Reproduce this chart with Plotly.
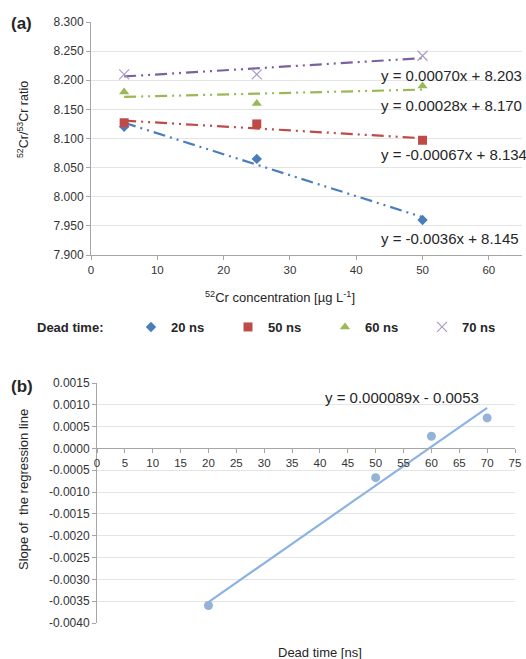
import plotly.graph_objects as go

# ---------------- data ----------------
conc = [5, 25, 50]
dead_labels = ["20 ns", "50 ns", "60 ns", "70 ns"]
ratio_20 = [8.120, 8.065, 7.960]
ratio_50 = [8.127, 8.125, 8.097]
ratio_60 = [8.180, 8.160, 8.190]
ratio_70 = [8.210, 8.210, 8.242]
fit_slopes = [-0.0036, -0.00067, 0.00028, 0.00070]
fit_intercepts = [8.145, 8.134, 8.170, 8.203]
fit_texts = ["y = -0.0036x + 8.145", "y = -0.00067x + 8.134",
             "y = 0.00028x + 8.170", "y = 0.00070x + 8.203"]

dead_time = [20, 50, 60, 70]
slope_vals = [-0.0036, -0.00067, 0.00028, 0.00070]
b_slope = 0.000089
b_intercept = -0.0053
b_text = "y = 0.000089x - 0.0053"

top_yticks = [7.900, 7.950, 8.000, 8.050, 8.100, 8.150, 8.200, 8.250, 8.300]
top_xticks = [0, 10, 20, 30, 40, 50, 60]
bot_yticks = [-0.0040, -0.0035, -0.0030, -0.0025, -0.0020, -0.0015, -0.0010,
              -0.0005, 0.0000, 0.0005, 0.0010, 0.0015]
bot_xticks = list(range(0, 80, 5))

# ---------------- style ----------------
W, H = 526, 659
FONT = "Liberation Sans, Arial, sans-serif"
colors = ["#4a7ebb", "#be4b48", "#98b954", "#7d60a0"]
marker_colors = ["#4a7ebb", "#be4b48", "#98b954", "#aa9cc4"]
symbols = ["diamond", "square", "triangle-up", "x-thin"]
msizes = [8, 9, 9, 10]
dash = "12px,5px,2px,5px,2px,5px"
grid = "#e4e4e4"
axc = "#a6a6a6"
TXT = "#262626"
ytickfont = dict(family=FONT, size=12, color="#333333")
xtickfont = dict(family=FONT, size=11.5, color="#333333")


def px_x(p):
    return p / W


def px_y(p):
    return 1 - p / H


fig = go.Figure()

series = [ratio_20, ratio_50, ratio_60, ratio_70]
for i, vals in enumerate(series):
    x0, x1 = conc[0], conc[-1]
    fig.add_trace(go.Scatter(
        x=[x0, x1],
        y=[fit_slopes[i] * x0 + fit_intercepts[i], fit_slopes[i] * x1 + fit_intercepts[i]],
        mode="lines", line=dict(color=colors[i], width=2.2, dash=dash),
        showlegend=False, hoverinfo="skip", xaxis="x", yaxis="y"))
for i, vals in enumerate(series):
    mk = dict(color=marker_colors[i], size=msizes[i], symbol=symbols[i])
    if symbols[i] == "x-thin":
        mk["line"] = dict(color=marker_colors[i], width=1.2)
    fig.add_trace(go.Scatter(
        x=conc, y=vals, mode="markers", name=dead_labels[i], marker=mk,
        xaxis="x", yaxis="y"))

# panel b
fig.add_trace(go.Scatter(
    x=[dead_time[0], dead_time[-1]],
    y=[b_slope * dead_time[0] + b_intercept, b_slope * dead_time[-1] + b_intercept],
    mode="lines", line=dict(color="#8db3e2", width=2.2), showlegend=False,
    xaxis="x2", yaxis="y2"))
fig.add_trace(go.Scatter(
    x=dead_time, y=slope_vals, mode="markers",
    marker=dict(color="#95b3d7", size=9), showlegend=False,
    xaxis="x2", yaxis="y2"))

# domains
top_x = [px_x(91), px_x(522)]
top_y = [px_y(255), px_y(22)]
bot_x = [px_x(97), px_x(515)]
bot_y = [px_y(623), px_y(383)]
b_range = [-0.0040, 0.0015]
zero_pos = bot_y[0] + (0 - b_range[0]) / (b_range[1] - b_range[0]) * (bot_y[1] - bot_y[0])

fig.update_layout(
    width=W, height=H, margin=dict(l=0, r=0, t=0, b=0, autoexpand=False),
    paper_bgcolor="white", plot_bgcolor="white",
    font=dict(family=FONT, color=TXT),
    xaxis=dict(domain=top_x, range=[0, 65], tickvals=top_xticks, showgrid=False,
               zeroline=False, showline=True, linecolor=axc, ticks="outside",
               ticklen=4, tickcolor=axc, tickfont=xtickfont, anchor="y"),
    yaxis=dict(domain=top_y, range=[7.900, 8.300], tickvals=top_yticks,
               ticktext=[f"{v:.3f}" for v in top_yticks],
               showgrid=True, gridcolor=grid, zeroline=False,
               showline=True, linecolor=axc, ticks="outside", ticklen=4,
               tickcolor=axc, tickfont=ytickfont, anchor="x"),
    xaxis2=dict(domain=bot_x, range=[0, 75], tickvals=bot_xticks, showgrid=False,
                zeroline=False, showline=True, linecolor=axc, ticks="outside",
                ticklen=4, tickcolor=axc, tickfont=xtickfont, anchor="free",
                position=zero_pos),
    yaxis2=dict(domain=bot_y, range=b_range, tickvals=bot_yticks,
                ticktext=[f"{v:.4f}" for v in bot_yticks],
                showgrid=True, gridcolor=grid, zeroline=False, showline=True,
                linecolor=axc, ticks="outside", ticklen=4, tickcolor=axc,
                tickfont=ytickfont, anchor="x2"),
    legend=dict(orientation="h", x=px_x(131), y=px_y(327), xanchor="left",
                yanchor="middle", font=dict(family=FONT, size=13, color=TXT,
                                            weight="bold"),
                entrywidth=52, entrywidthmode="pixels", bgcolor="rgba(0,0,0,0)",
                itemclick=False),
)


def note(text, x, y, size, angle=0, xa="center", ya="middle", bold=False):
    return dict(text=f"<b>{text}</b>" if bold else text, x=x, y=y, xref="paper",
                yref="paper", xanchor=xa, yanchor=ya, textangle=angle,
                showarrow=False, font=dict(family=FONT, size=size, color=TXT))


ann = [
    note("(a)", px_x(9), px_y(24), 17, xa="left", bold=True),
    note("(b)", px_x(9), px_y(386), 17, xa="left", bold=True),
    note("<sup>52</sup>Cr/<sup>53</sup>Cr ratio", px_x(23), px_y(120), 12.5, angle=-90),
    note("<sup>52</sup>Cr concentration [µg L<sup>-1</sup>]", px_x(280), px_y(297), 13),
    note("Dead time:", px_x(35), px_y(327), 13, xa="left", bold=True),
    note("Slope of  the regression line", px_x(24), px_y(490), 13, angle=-90),
    note("Dead time [ns]", px_x(320), px_y(652), 13),
]

eq_y = [7.929, 8.0717, 8.157, 8.209]
for t, yy in zip(fit_texts, eq_y):
    ann.append(dict(text=t, x=43.4, y=yy, xref="x", yref="y", xanchor="left",
                    yanchor="middle", showarrow=False,
                    font=dict(family=FONT, size=15, color=TXT)))
ann.append(dict(text=b_text, x=40.5, y=0.00116, xref="x2", yref="y2", xanchor="left",
                yanchor="middle", showarrow=False,
                font=dict(family=FONT, size=15, color=TXT)))
fig.update_layout(annotations=ann)

fig.write_html("out.html", config={"displayModeBar": False},
               post_script="document.body.style.margin='0';document.body.style.overflow='hidden';")
